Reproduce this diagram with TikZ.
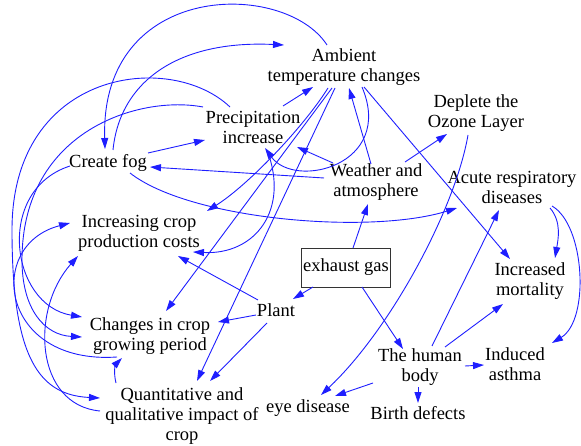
\documentclass[tikz,border=0pt]{standalone}
\usepackage{fontspec}
\setmainfont{Liberation Serif}
\usetikzlibrary{arrows.meta}
\definecolor{vblue}{RGB}{30,30,255}
\begin{document}
\begin{tikzpicture}[x=1pt,y=-1pt,
  lbl/.style={align=center,inner sep=0pt,font=\fontsize{18.5}{20}\selectfont},
  boxed/.style={draw=black!80,line width=0.8pt,inner sep=0pt,minimum width=89pt,minimum height=39pt,font=\fontsize{18.5}{20}\selectfont},
  lnk/.style={draw=vblue,line width=0.9pt,-{Triangle[length=11pt,width=7pt]}}]
\useasboundingbox (0,0) rectangle (581,446);

\node[lbl] (amb) at (344,67) {Ambient\\temperature changes};
\node[lbl] (pre) at (253,127) {Precipitation\\increase};
\node[lbl] (fog) at (108,163) {Create fog};
\node[lbl] (wea) at (376,182) {Weather and\\atmosphere};
\node[lbl] (ozo) at (476,113) {Deplete the\\Ozone Layer};
\node[lbl] (acu) at (512,187) {Acute respiratory\\diseases};
\node[lbl] (inc) at (139,233) {Increasing crop\\production costs};
\node[boxed] (exh) at (346,267.5) {exhaust gas};
\node[lbl] (mor) at (530,281) {Increased\\mortality};
\node[lbl] (pla) at (276,310) {Plant};
\node[lbl] (chg) at (150,336) {Changes in crop\\growing period};
\node[lbl] (hum) at (420,367) {The human\\body};
\node[lbl] (ast) at (515,364) {Induced\\asthma};
\node[lbl] (qua) at (182,416) {Quantitative and\\qualitative impact of\\crop};
\node[lbl] (eye) at (308,408) {eye disease};
\node[lbl] (bir) at (418,413) {Birth defects};

\coordinate (wp1) at (12,230);
\coordinate (wp2) at (22,260);

% straight links
\draw[lnk] ([shift={(7,-19.5)}]exh.center) -- ([shift={(-8,22)}]wea.center);
\draw[lnk] ([shift={(-33,19.5)}]exh.center) -- ([shift={(17,-11)}]pla.center);
\draw[lnk] ([shift={(16,19.5)}]exh.center) -- ([shift={(-17,-18)}]hum.center);
\draw[lnk] ([shift={(-5,-18)}]wea.center) -- ([shift={(5,21)}]amb.center);
\draw[lnk] ([shift={(-43,-19)}]wea.center) -- ([shift={(44,20)}]pre.center);
\draw[lnk] ([shift={(-52,-4)}]wea.center) -- ([shift={(42,4)}]fog.center);
\draw[lnk] ([shift={(29,-20)}]wea.center) -- ([shift={(-29,21)}]ozo.center);
\draw[lnk] ([shift={(30,-21)}]pre.center) -- ([shift={(-31,20)}]amb.center);
\draw[lnk] ([shift={(40,-10)}]fog.center) -- ([shift={(-48,13)}]pre.center);
\draw[lnk] ([shift={(-12,21)}]amb.center) -- ([shift={(16,-25)}]chg.center);
\draw[lnk] ([shift={(-9,21)}]amb.center) -- ([shift={(15,-35)}]qua.center);
\draw[lnk] ([shift={(-18,-10)}]pla.center) -- ([shift={(39,23)}]inc.center);
\draw[lnk] ([shift={(-20,5)}]pla.center) -- ([shift={(68,-14)}]chg.center);
\draw[lnk] ([shift={(-9,13)}]pla.center) -- ([shift={(28,-35)}]qua.center);
\draw[lnk] ([shift={(20,20)}]amb.center) -- ([shift={(-20,-22)}]mor.center);
\draw[lnk] ([shift={(12,-21)}]hum.center) -- ([shift={(-13,23)}]acu.center);
\draw[lnk] ([shift={(25,-20)}]hum.center) -- ([shift={(-27,23)}]mor.center);
\draw[lnk] ([shift={(45,-1)}]hum.center) -- ([shift={(-31,1)}]ast.center);
\draw[lnk] ([shift={(-47,16)}]hum.center) -- ([shift={(27,-12)}]eye.center);
\draw[lnk] ([shift={(-2,20)}]hum.center) -- ([shift={(0,-10)}]bir.center);

% curved links
\draw[lnk] ([shift={(-17,-22)}]amb.center) .. controls +(-42,-65) and +(-5,-169) .. ([shift={(-3,-14)}]fog.center);
\draw[lnk] ([shift={(5,-13)}]fog.center) .. controls +(7,-70) and +(-104,-5) .. ([shift={(-60,-22)}]amb.center);
\draw[lnk] ([shift={(-16,21)}]amb.center) .. controls +(-25,40) and +(40,-25) .. ([shift={(68,-22)}]inc.center);
\draw[lnk] ([shift={(18,20)}]amb.center) .. controls +(33,78) and +(30,42) .. ([shift={(12,21)}]pre.center);
\draw[lnk] ([shift={(14,23)}]pre.center) .. controls +(23,60) and +(62,3) .. ([shift={(54,19)}]inc.center);
\draw[lnk] ([shift={(-33,21)}]chg.center) .. controls +(-117,8) and +(-85,22) .. ([shift={(-69,-10)}]inc.center);
\draw[lnk] ([shift={(-82,-5)}]qua.center) .. controls +(-65,-6) and +(-48,54) .. ([shift={(-61,23)}]inc.center);
\draw[lnk] ([shift={(-23,-20)}]pre.center) .. controls +(-60,-57) and +(0,-160) .. (wp1)
   .. controls +(0,130) and +(-60,-3) .. ([shift={(-82,-18)}]qua.center);
\draw[lnk] ([shift={(-50,-20)}]pre.center) .. controls +(-63,-12) and +(0,-130) .. (wp2)
   .. controls +(0,50) and +(-37,-2) .. ([shift={(-68,1)}]chg.center);
\draw[lnk] ([shift={(-38,3)}]fog.center) .. controls +(-75,24) and +(-72,-12) .. ([shift={(-68,-19)}]chg.center);
\draw[lnk] ([shift={(22,10)}]fog.center) .. controls +(60,47) and +(-87,27) .. ([shift={(-55,21)}]acu.center);
\draw[lnk] ([shift={(-8,22)}]ozo.center) .. controls +(-13,75) and +(69,-65) .. ([shift={(13,-13)}]eye.center);
\draw[lnk] ([shift={(38,21)}]acu.center) .. controls +(12,14) and +(3,-18) .. ([shift={(25,-23)}]mor.center);
\draw[lnk] ([shift={(40,19)}]acu.center) .. controls +(33,19) and +(38,-23) .. ([shift={(37,-21)}]ast.center);
\draw[lnk] ([shift={(-66,-33)}]qua.center) .. controls +(-3,-12) and +(-6,6) .. ([shift={(-28,22)}]chg.center);
\end{tikzpicture}
\end{document}
